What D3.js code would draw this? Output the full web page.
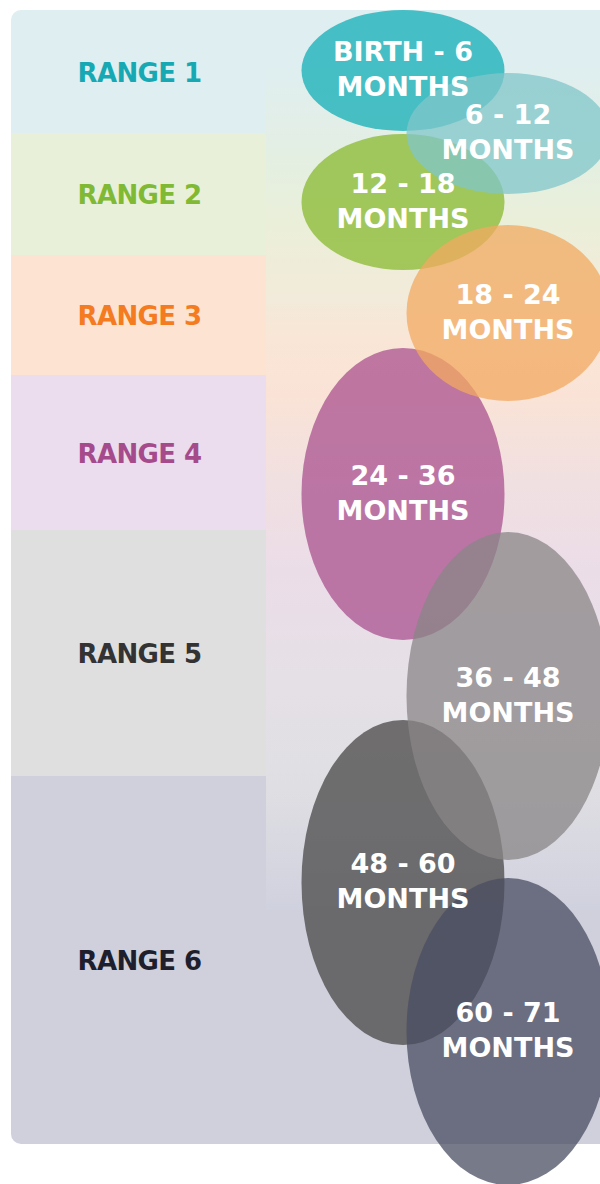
<!DOCTYPE html>
<html>
<head>
<meta charset="utf-8">
<script src="https://cdn.jsdelivr.net/npm/d3@7"></script>
<style>
  html, body { margin: 0; padding: 0; background: #ffffff; }
  svg { display: block; }
  text { font-family: "DejaVu Sans", sans-serif; font-weight: bold; }
</style>
</head>
<body>
<div id="chart"></div>
<script>
// Age ranges and their bubbles
const rangeLabels = ["RANGE 1", "RANGE 2", "RANGE 3", "RANGE 4", "RANGE 5", "RANGE 6"];
const ageFrom = ["BIRTH", "6", "12", "18", "24", "36", "48", "60"];
const ageTo = ["6", "12", "18", "24", "36", "48", "60", "71"];
const ageUnit = "MONTHS";

// Layout (panel units, measured from the top of the panel)
const bandEdges = [0, 123, 245, 365, 520, 766, 1134];
const bubbleTop = [0, 63, 124, 215, 338, 522, 710, 868];
const bubbleBottom = [121, 184, 260, 391, 630, 850, 1035, 1175];

// Colours
const bandColors = ["#dfeef1", "#e8f0da", "#fde4d2", "#ebdded", "#dfdfdf", "#cfd0dc"];
const labelColors = ["#17a9b3", "#80b933", "#f47b20", "#a54b8c", "#333333", "#1e1e2d"];
const bubbleColors = ["#12aeb6", "#80c5c9", "#88b92f", "#f1a960", "#a9528f", "#898687", "#484747", "#4a4d61"];

const width = 600, height = 1184;
const panel = { x: 11, y: 10, w: 620, h: 1134, r: 10 };
const leftColW = 255;

const svg = d3.select("#chart").append("svg")
  .attr("width", width)
  .attr("height", height);

const defs = svg.append("defs");

defs.append("clipPath").attr("id", "panel-clip")
  .append("rect")
  .attr("x", panel.x).attr("y", panel.y)
  .attr("width", panel.w).attr("height", panel.h)
  .attr("rx", panel.r);

// soft gradient behind the bubbles
const overlayStops = [
  [0.00, "#dfeef0"], [0.11, "#e4efe2"], [0.19, "#ebefd9"], [0.28, "#f3eada"],
  [0.32, "#f9e6d6"], [0.39, "#fae3d6"], [0.49, "#f1e0e1"], [0.60, "#ebdde8"],
  [0.73, "#e5e0e6"], [0.85, "#dfdfe3"], [1.00, "#d0d1de"]
];
const grad = defs.append("linearGradient").attr("id", "overlay")
  .attr("x1", 0).attr("y1", 0).attr("x2", 0).attr("y2", 1);
grad.selectAll("stop").data(overlayStops).enter().append("stop")
  .attr("offset", d => d[0])
  .attr("stop-color", d => d[1]);

const y = d3.scaleLinear().domain([0, panel.h]).range([panel.y, panel.y + panel.h]);
const x = d3.scalePoint().domain(["left", "right"]).range([403, 508]);
const bubbleRx = 101.5;

const bg = svg.append("g").attr("clip-path", "url(#panel-clip)");

// range bands across the whole panel
bg.selectAll("rect.band")
  .data(rangeLabels)
  .enter().append("rect")
  .attr("class", "band")
  .attr("x", panel.x)
  .attr("y", (d, i) => y(bandEdges[i]))
  .attr("width", panel.w)
  .attr("height", (d, i) => y(bandEdges[i + 1]) - y(bandEdges[i]))
  .attr("fill", (d, i) => bandColors[i]);

bg.append("rect")
  .attr("x", panel.x + leftColW)
  .attr("y", y(57))
  .attr("width", panel.w)
  .attr("height", y(900) - y(57))
  .attr("fill", "url(#overlay)");

// range labels
svg.selectAll("text.range")
  .data(rangeLabels)
  .enter().append("text")
  .attr("class", "range")
  .attr("x", panel.x + leftColW / 2 + 1)
  .attr("y", (d, i) => y((bandEdges[i] + bandEdges[i + 1]) / 2) + 1)
  .attr("dy", "0.36em")
  .attr("text-anchor", "middle")
  .attr("font-size", 26)
  .attr("letter-spacing", -0.6)
  .attr("fill", (d, i) => labelColors[i])
  .text(d => d);

// bubbles
const bubbles = ageFrom.map((from, i) => ({
  from, to: ageTo[i],
  col: i % 2 === 0 ? "left" : "right",
  cy: (y(bubbleTop[i]) + y(bubbleBottom[i])) / 2,
  ry: (y(bubbleBottom[i]) - y(bubbleTop[i])) / 2,
  color: bubbleColors[i]
}));

// left column first, so the right-hand bubbles sit on top
const drawOrder = bubbles.filter(d => d.col === "left").concat(bubbles.filter(d => d.col === "right"));

svg.selectAll("ellipse.bubble")
  .data(drawOrder)
  .enter().append("ellipse")
  .attr("class", "bubble")
  .attr("cx", d => x(d.col))
  .attr("cy", d => d.cy)
  .attr("rx", bubbleRx)
  .attr("ry", d => d.ry)
  .attr("fill", d => d.color)
  .attr("fill-opacity", 0.75);

const labels = svg.selectAll("text.age")
  .data(bubbles)
  .enter().append("text")
  .attr("class", "age")
  .attr("text-anchor", "middle")
  .attr("font-size", 27)
  .attr("fill", "#ffffff")
  .attr("x", d => x(d.col));

labels.append("tspan")
  .attr("x", d => x(d.col))
  .attr("y", d => d.cy - 2 - 7.5)
  .text(d => `${d.from} - ${d.to}`);

labels.append("tspan")
  .attr("x", d => x(d.col))
  .attr("y", d => d.cy - 2 + 27.5)
  .text(ageUnit);
</script>
</body>
</html>
